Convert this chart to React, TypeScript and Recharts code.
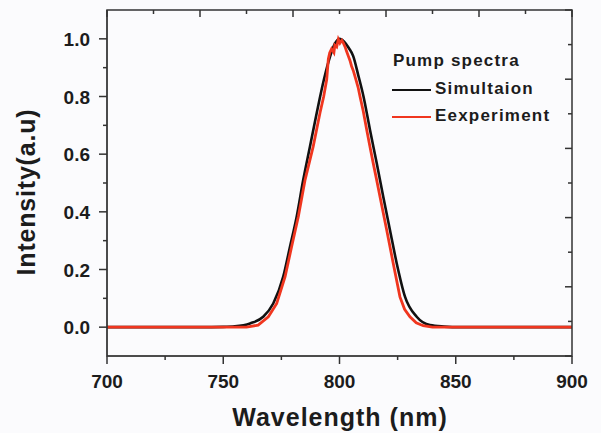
import React from 'react';
import { LineChart, Line, XAxis, YAxis } from 'recharts';

// simulated pump spectrum
const SIM_WAVELENGTH = [
  700, 740, 750, 755, 761.5, 767.2, 771.5, 775.8,
  778.7, 781.6, 784.4, 787.3, 790.2, 793.3, 796.0, 798.0,
  800.0, 802.0, 804.0, 805.9, 808.0, 810.3, 813.1, 816.0,
  818.8, 821.7, 824.6, 828.2, 833.2, 838.9, 845.0, 852.0,
  900,
];
const SIM_INTENSITY = [
  0, 0, 0.001, 0.003, 0.013, 0.036, 0.082, 0.175,
  0.279, 0.384, 0.511, 0.627, 0.743, 0.859, 0.94, 0.983,
  1.0, 0.99, 0.968, 0.94, 0.876, 0.801, 0.685, 0.569,
  0.453, 0.337, 0.222, 0.105, 0.036, 0.007, 0.002, 0,
  0,
];

// measured pump spectrum
const EXP_WAVELENGTH = [
  700, 760, 765, 769.4, 773, 776.6, 779.4, 782.3,
  785.2, 788.7, 791.6, 793.2, 794.5, 795.2, 795.8, 796.6,
  797.0, 797.6, 798.0, 798.8, 799.5, 800.2, 801.0, 801.6,
  802.4, 803.0, 803.8, 804.5, 805.2, 806.0, 807.0, 808.0,
  808.8, 810.2, 811.7, 813.0, 814.5, 816.0, 817.4, 820.3,
  823.1, 826.0, 828.0, 830.3, 833.0, 836.0, 840.0, 900,
];
const EXP_INTENSITY = [
  0, 0, 0.007, 0.036, 0.082, 0.175, 0.279, 0.384,
  0.511, 0.627, 0.743, 0.8, 0.859, 0.93, 0.952, 0.965,
  0.96, 0.952, 0.978, 0.972, 0.998, 0.985, 0.995, 0.987,
  0.972, 0.958, 0.94, 0.925, 0.905, 0.888, 0.86, 0.832,
  0.801, 0.75, 0.685, 0.63, 0.569, 0.51, 0.453, 0.337,
  0.222, 0.105, 0.062, 0.036, 0.015, 0.005, 0, 0,
];

const SERIES = [
  { name: 'Simultaion', color: '#111111' },
  { name: 'Eexperiment', color: '#f0361f' },
];
const X_TICKS = [700, 725, 750, 775, 800, 825, 850, 875, 900];
const Y_TICKS = [0, 0.1, 0.2, 0.3, 0.4, 0.5, 0.6, 0.7, 0.8, 0.9, 1.0];
const TOP_TICKS = [700, 720, 740, 760, 780, 800, 820, 840, 860, 880, 900];
const RIGHT_TICKS = [-0.1, 0.02, 0.14, 0.26, 0.38, 0.5, 0.62, 0.74, 0.86, 0.98, 1.1];

const X_DOMAIN = [700, 900];
const Y_DOMAIN = [-0.1, 1.1];

const simData = SIM_WAVELENGTH.map((w, i) => ({ w, v: SIM_INTENSITY[i] }));
const expData = EXP_WAVELENGTH.map((w, i) => ({ w, v: EXP_INTENSITY[i] }));

// chart box
const W = 601;
const H = 433;
const M = { top: 10, right: 29, bottom: 0, left: 0 };
const Y_AXIS_W = 107;
const X_AXIS_H = 77;
const PLOT = {
  left: M.left + Y_AXIS_W,
  right: W - M.right,
  top: M.top,
  bottom: H - M.bottom - X_AXIS_H,
};
const sx = (v: number) => PLOT.left + ((v - X_DOMAIN[0]) / (X_DOMAIN[1] - X_DOMAIN[0])) * (PLOT.right - PLOT.left);
const sy = (v: number) => PLOT.bottom - ((v - Y_DOMAIN[0]) / (Y_DOMAIN[1] - Y_DOMAIN[0])) * (PLOT.bottom - PLOT.top);

const AXIS = '#333';
const TEXT = '#1c1c1c';
const FONT = '"Liberation Sans", Arial, sans-serif';

const BottomTick = (props: any) => {
  const { x, y, payload } = props;
  if (payload.value % 50 !== 0) return <g />;
  return (
    <text x={x} y={y + 32} textAnchor="middle" fill={TEXT} fontSize={19} fontWeight="bold" fontFamily={FONT}>
      {payload.value}
    </text>
  );
};

const LeftTick = (props: any) => {
  const { x, y, payload } = props;
  if (Math.round(payload.value * 10) % 2 !== 0) return <g />;
  return (
    <text x={x - 17} y={y + 7} textAnchor="end" fill={TEXT} fontSize={19} fontWeight="bold" fontFamily={FONT}>
      {payload.value.toFixed(1)}
    </text>
  );
};

// frame and tick marks (Origin style: bottom/left ticks outward, top/right ticks inward)
const Frame = () => (
  <svg width={W} height={H} style={{ position: 'absolute', left: 0, top: 0, pointerEvents: 'none' }}>
    <g stroke={AXIS} strokeWidth={1.5} fill="none">
      <rect x={PLOT.left} y={PLOT.top} width={PLOT.right - PLOT.left} height={PLOT.bottom - PLOT.top} />
      {X_TICKS.map((t) => (
        <line key={`b${t}`} x1={sx(t)} x2={sx(t)} y1={PLOT.bottom} y2={PLOT.bottom + (t % 50 === 0 ? 8 : 4)} />
      ))}
      {Y_TICKS.map((t) => (
        <line key={`l${t}`} x1={PLOT.left - (Math.round(t * 10) % 2 === 0 ? 8 : 4)} x2={PLOT.left} y1={sy(t)} y2={sy(t)} />
      ))}
      {TOP_TICKS.map((t, i) => (
        <line key={`t${t}`} x1={sx(t)} x2={sx(t)} y1={PLOT.top} y2={PLOT.top + (i % 2 === 0 ? 7 : 4)} />
      ))}
      {RIGHT_TICKS.map((t, i) => (
        <line key={`r${t}`} x1={PLOT.right - (i % 2 === 0 ? 7 : 4)} x2={PLOT.right} y1={sy(t)} y2={sy(t)} />
      ))}
    </g>
  </svg>
);

const bold = { fontFamily: FONT, fontWeight: 'bold' as const, color: TEXT, whiteSpace: 'nowrap' as const };

export default function App() {
  return (
    <div style={{ position: 'absolute', left: 0, top: 0, width: W, height: H, background: '#fbfbfd' }}>
      <LineChart width={W} height={H} margin={M}>
        <XAxis
          dataKey="w"
          type="number"
          domain={X_DOMAIN}
          ticks={X_TICKS}
          interval={0}
          height={X_AXIS_H}
          tickSize={0}
          tickMargin={0}
          tickLine={false}
          tick={BottomTick}
          stroke={AXIS}
        />
        <YAxis
          type="number"
          domain={Y_DOMAIN}
          ticks={Y_TICKS}
          interval={0}
          width={Y_AXIS_W}
          tickSize={0}
          tickMargin={0}
          tickLine={false}
          tick={LeftTick}
          stroke={AXIS}
        />
        <Line
          data={simData}
          dataKey="v"
          name={SERIES[0].name}
          type="monotone"
          stroke={SERIES[0].color}
          strokeWidth={2.6}
          dot={false}
          isAnimationActive={false}
        />
        <Line
          data={expData}
          dataKey="v"
          name={SERIES[1].name}
          type="linear"
          stroke={SERIES[1].color}
          strokeWidth={2.8}
          dot={false}
          isAnimationActive={false}
        />
      </LineChart>

      <Frame />

      {/* axis titles */}
      <div style={{ ...bold, position: 'absolute', left: 140, width: 400, top: 405, fontSize: 25, lineHeight: '25px', letterSpacing: 1, textAlign: 'center' }}>
        Wavelength (nm)
      </div>
      <div
        style={{
          ...bold,
          position: 'absolute',
          left: 26 - 150,
          top: 192 - 15,
          width: 300,
          height: 30,
          fontSize: 25,
          lineHeight: '30px',
          letterSpacing: 0.8,
          textAlign: 'center',
          transform: 'rotate(-90deg)',
        }}
      >
        Intensity(a.u)
      </div>

      {/* legend */}
      <div style={{ ...bold, position: 'absolute', left: 393, top: 52, fontSize: 17, lineHeight: '17px', letterSpacing: 1.2 }}>
        Pump spectra
      </div>
      {SERIES.map((s, i) => (
        <div key={s.name} style={{ ...bold, position: 'absolute', left: 392, top: 80 + i * 27, height: 17, width: 190 }}>
          <span style={{ position: 'absolute', left: 0, top: 9, width: 39, height: 0, borderTop: `2.5px solid ${s.color}` }} />
          <span style={{ position: 'absolute', left: 43, top: 0, fontSize: 17, lineHeight: '17px', letterSpacing: 1.2 }}>
            {s.name}
          </span>
        </div>
      ))}
    </div>
  );
}
